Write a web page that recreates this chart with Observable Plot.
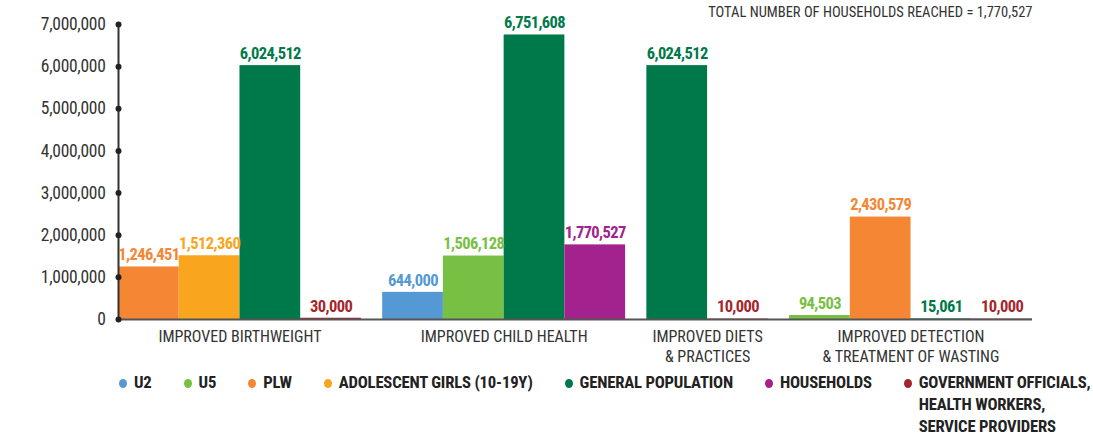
<!DOCTYPE html>
<html>
<head>
<meta charset="utf-8">
<script src="https://cdn.jsdelivr.net/npm/d3@7"></script>
<script src="https://cdn.jsdelivr.net/npm/@observablehq/plot@0.6"></script>
<style>
  html, body { margin: 0; padding: 0; background: #fff; }
  body { width: 1093px; height: 436px; overflow: hidden; font-family: Roboto, sans-serif; font-stretch: 75%; }
  #chart svg { display: block; }
  #chart svg, #chart svg text { font-family: Roboto, sans-serif; font-stretch: 75%; }
  #chart svg g.values text { letter-spacing: -0.6px; }
  #chart svg g.yticks text { letter-spacing: -0.3px; }
  .legend { display: flex; align-items: flex-start; margin-left: 119px; padding-top: 4px; }
  .item { display: flex; align-items: flex-start; font-weight: bold; font-size: 16.7px; line-height: 22px; color: #222; margin-right: 32px; white-space: nowrap; letter-spacing: -0.2px; }
  .dot { width: 8px; height: 9px; border-radius: 50%; margin-top: 7px; margin-right: 7px; flex: none; }
</style>
</head>
<body>
<div id="chart"></div>
<div class="legend" id="legend"></div>
<script>
const categories = ["IMPROVED BIRTHWEIGHT", "IMPROVED CHILD HEALTH", "IMPROVED DIETS\n& PRACTICES", "IMPROVED DETECTION\n& TREATMENT OF WASTING"];
const seriesNames = ["U2", "U5", "PLW", "ADOLESCENT GIRLS (10-19Y)", "GENERAL POPULATION", "HOUSEHOLDS", "GOVERNMENT OFFICIALS,\nHEALTH WORKERS,\nSERVICE PROVIDERS"];
const seriesColors = ["#5499d3", "#78c043", "#f58634", "#f9a51e", "#00794a", "#a3228d", "#a4262c"];
const birthweightValues = [null, null, 1246451, 1512360, 6024512, null, 30000];
const childHealthValues = [644000, 1506128, null, null, 6751608, 1770527, null];
const dietsValues = [null, null, null, null, 6024512, null, 10000];
const wastingValues = [null, 94503, 2430579, null, 15061, null, 10000];
const yTicks = [0, 1000000, 2000000, 3000000, 4000000, 5000000, 6000000, 7000000];
const note = "TOTAL NUMBER OF HOUSEHOLDS REACHED = 1,770,527";

const groupValues = [birthweightValues, childHealthValues, dietsValues, wastingValues];
const groupGap = 0.35;
const rows = [];
const groups = [];
let pos = 0;
groupValues.forEach((vals, gi) => {
  const start = pos;
  vals.forEach((v, si) => {
    if (v == null) return;
    rows.push({category: categories[gi], series: seriesNames[si], value: v, x1: pos, x2: pos + 1});
    pos += 1;
  });
  groups.push({category: categories[gi], center: (start + pos) / 2});
  pos += groupGap;
});
const xMax = pos - groupGap;

const chart = Plot.plot({
  width: 1093,
  height: 368,
  marginLeft: 118,
  marginRight: 61,
  marginTop: 24,
  marginBottom: 49,
  style: {fontFamily: "Roboto, sans-serif", background: "#fff", overflow: "visible"},
  x: {domain: [0, xMax], axis: null},
  y: {domain: [0, 7000000], axis: null},
  color: {domain: seriesNames, range: seriesColors},
  marks: [
    Plot.rectY(rows, {x1: "x1", x2: "x2", y: "value", fill: "series"}),
    Plot.ruleY([0], {stroke: "#555", strokeWidth: 2}),
    Plot.ruleX([0], {y1: 0, y2: 7000000, stroke: "#333", strokeWidth: 2}),
    Plot.dot(yTicks, {x: 0, y: d => d, r: 3, fill: "#222"}),
    Plot.text(yTicks, {x: 0, y: d => d, text: d => d3.format(",")(d), textAnchor: "end", dx: -13, fontSize: 17.5, fill: "#333", className: "yticks"}),
    Plot.text(rows, {x: d => (d.x1 + d.x2) / 2, y: "value", text: d => d3.format(",")(d.value), fill: "series", fontWeight: "bold", fontSize: 16.5, dy: -12, className: "values"}),
    Plot.text(groups, {x: "center", y: 0, text: "category", lineAnchor: "top", dy: 8, fontSize: 16, fill: "#333", lineHeight: 1.25}),
    Plot.text([note], {frameAnchor: "top-right", text: d => d, dy: -12, lineAnchor: "middle", fontSize: 14.5, fill: "#333"})
  ]
});
document.getElementById("chart").append(chart);

const legend = document.getElementById("legend");
seriesNames.forEach((name, i) => {
  const item = document.createElement("div");
  item.className = "item";
  const dot = document.createElement("span");
  dot.className = "dot";
  dot.style.background = seriesColors[i];
  const label = document.createElement("span");
  label.innerHTML = name.split("\n").join("<br>");
  item.append(dot, label);
  legend.append(item);
});
</script>
</body>
</html>
